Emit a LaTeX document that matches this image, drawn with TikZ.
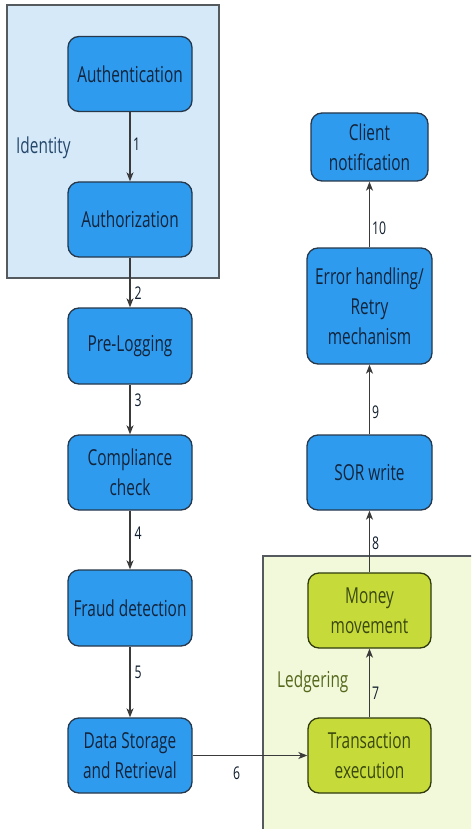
\documentclass[tikz,border=0pt]{standalone}
\usepackage{fontspec}
\setmainfont[FakeStretch=0.7]{Open Sans}
\usetikzlibrary{arrows.meta}

\definecolor{stepblue}{HTML}{2F9BEF}
\definecolor{stepedge}{HTML}{26384A}
\definecolor{steptext}{HTML}{13243A}
\definecolor{idbg}{HTML}{D6E9F9}
\definecolor{idtext}{HTML}{24476B}
\definecolor{ledgreen}{HTML}{C6DB3A}
\definecolor{ledbg}{HTML}{F2F8DA}
\definecolor{ledtext}{HTML}{3A4810}
\definecolor{ledlabel}{HTML}{56681C}
\definecolor{framegray}{HTML}{555A5F}
\definecolor{linkgray}{HTML}{3A3A3A}

\tikzset{
  stepbox/.style={draw=stepedge, line width=1.3pt, fill=stepblue, rounded corners=11pt,
    text=steptext, align=center, inner sep=0pt, minimum width=124pt, minimum height=75pt,
    font=\fontsize{22}{30}\selectfont},
  ledbox/.style={stepbox, fill=ledgreen, draw=ledtext!80!black, text=ledtext},
  link/.style={draw=linkgray, line width=1.2pt, -{Stealth[length=9pt,width=7pt,inset=2.5pt]}},
  num/.style={anchor=west, inner sep=0pt, text=steptext!80!black, font=\fontsize{17.5}{20}\selectfont},
  group/.style={draw=framegray, line width=1.5pt},
  grouplabel/.style={anchor=west, inner sep=0pt, font=\fontsize{22}{30}\selectfont}
}

\begin{document}
\begin{tikzpicture}[x=1pt, y=-1pt]
\useasboundingbox (0,0) rectangle (471,829);
\fill[white] (0,0) rectangle (471,829);

% group frames
\draw[group, fill=idbg] (7,5) rectangle (219,278);
\begin{scope}
  \clip (0,0) rectangle (471,829);
  \draw[group, fill=ledbg] (263,556) rectangle (490,840);
\end{scope}
\node[grouplabel, text=idtext] (identity) at (16,148) {Identity};
\node[grouplabel, text=ledlabel] (ledgering) at (277,682) {Ledgering};

% left column
\node[stepbox] (authn) at (130,74) {Authentication};
\node[stepbox] (authz) at (130,219.5) {Authorization};
\node[stepbox, minimum height=76pt] (prelog) at (130,346) {Pre-Logging};
\node[stepbox] (compl) at (130,472.5) {Compliance\\check};
\node[stepbox, minimum height=76pt] (fraud) at (130,608) {Fraud detection};
\node[stepbox] (store) at (130,755.5) {Data Storage\\and Retrieval};

% ledgering steps
\node[ledbox, minimum width=123pt] (txn) at (369.5,755.5) {Transaction\\execution};
\node[ledbox, minimum width=123pt] (money) at (369.5,610.5) {Money\\movement};

% right column
\node[stepbox, minimum width=125pt] (sor) at (369.5,472.5) {SOR write};
\node[stepbox, minimum width=125pt, minimum height=116pt] (retry) at (369.5,306) {Error handling/\\Retry\\mechanism};
\node[stepbox, minimum width=117pt, minimum height=68pt] (notify) at (369.5,147) {Client\\notification};

% connectors
\draw[link] (authn) -- (authz);
\draw[link] (authz) -- (prelog);
\draw[link] (prelog) -- (compl);
\draw[link] (compl) -- (fraud);
\draw[link] (fraud) -- (store);
\draw[link] (store) -- (txn);
\draw[link] (txn) -- (money);
\draw[link] (money) -- (sor);
\draw[link] (sor) -- (retry);
\draw[link] (retry) -- (notify);

% step numbers
\node[num] (n1) at (133,144) {1};
\node[num] (n2) at (134.5,293) {2};
\node[num] (n3) at (134.5,400) {3};
\node[num] (n4) at (134.5,533) {4};
\node[num] (n5) at (134.5,672) {5};
\node[num] (n6) at (233,773) {6};
\node[num] (n7) at (372,693) {7};
\node[num] (n8) at (372,543) {8};
\node[num] (n9) at (372,412) {9};
\node[num] (n10) at (372,228) {10};
\end{tikzpicture}
\end{document}
